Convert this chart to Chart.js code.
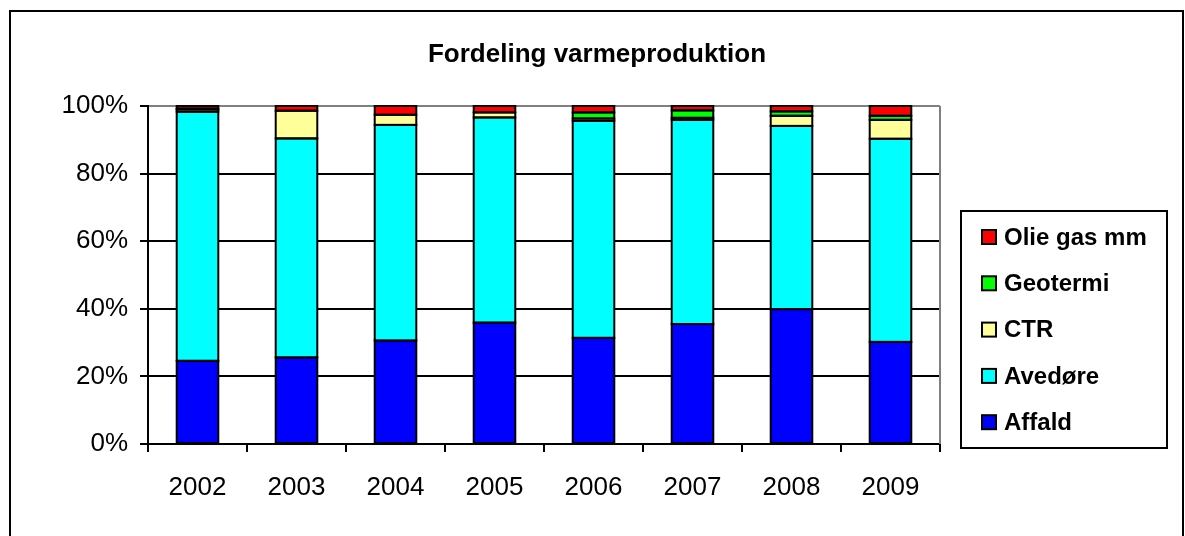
<!DOCTYPE html>
<html>
<head>
<meta charset="utf-8">
<script src="https://cdn.jsdelivr.net/npm/chart.js@4"></script>
<style>
  html, body { margin: 0; padding: 0; background: #fff; }
  #wrap { width: 1185px; height: 536px; }
</style>
</head>
<body>
<div id="wrap"><canvas id="myChart" width="1185" height="536"></canvas></div>
<script>
// Data (percent of total)
const years = ['2002', '2003', '2004', '2005', '2006', '2007', '2008', '2009'];
const affald   = [24.6, 25.6, 30.6, 35.9, 31.4, 35.5, 39.9, 30.2];
const avedore  = [73.7, 64.8, 63.8, 60.7, 64.2, 60.4, 54.2, 60.1];
const ctr      = [0.7, 8.2, 3.0, 1.5, 0.7, 0.6, 3.0, 5.6];
const geotermi = [0.2, 0, 0, 0, 1.8, 2.2, 1.3, 1.2];
const olie     = [0.8, 1.4, 2.6, 1.9, 1.9, 1.3, 1.6, 2.9];
const yTicks = [0, 20, 40, 60, 80, 100];
const titleText = 'Fordeling varmeproduktion';

const FONT = "'Liberation Sans', Arial, sans-serif";

// outer frame, title and grey plot border on the right
const framePlugin = {
  id: 'frame',
  beforeDraw(chart) {
    const ctx = chart.ctx;
    ctx.save();
    ctx.fillStyle = '#fff';
    ctx.fillRect(0, 0, chart.width, chart.height);
    ctx.strokeStyle = '#000';
    ctx.lineWidth = 2;
    ctx.strokeRect(10, 11, 1173, 560);
    ctx.fillStyle = '#000';
    ctx.font = 'bold 26px ' + FONT;
    ctx.textAlign = 'center';
    ctx.textBaseline = 'middle';
    ctx.fillText(titleText, 597, 55);
    ctx.restore();
  },
  beforeDatasetsDraw(chart) {
    const { ctx, chartArea } = chart;
    ctx.save();
    ctx.strokeStyle = '#808080';
    ctx.lineWidth = 2;
    ctx.beginPath();
    ctx.moveTo(chartArea.right, chartArea.top);
    ctx.lineTo(chartArea.right, chartArea.bottom);
    ctx.stroke();
    ctx.restore();
  },
  // Excel style outlines: a 2px stroke centred on each segment edge
  afterDatasetsDraw(chart) {
    const ctx = chart.ctx;
    ctx.save();
    ctx.strokeStyle = '#000';
    ctx.lineWidth = 2;
    chart.data.datasets.forEach((ds, i) => {
      chart.getDatasetMeta(i).data.forEach(bar => {
        const p = bar.getProps(['x', 'y', 'base', 'width'], true);
        if (Math.abs(p.base - p.y) < 0.01) return;
        ctx.strokeRect(p.x - p.width / 2, p.y, p.width, p.base - p.y);
      });
    });
    ctx.restore();
  }
};

// boxed legend on the right, top series first
const legendPlugin = {
  id: 'boxLegend',
  afterDraw(chart) {
    const ctx = chart.ctx;
    const box = { x: 961, y: 211, w: 206, h: 237 };
    ctx.save();
    ctx.strokeStyle = '#000';
    ctx.lineWidth = 2;
    ctx.strokeRect(box.x, box.y, box.w, box.h);
    ctx.font = 'bold 24px ' + FONT;
    ctx.textBaseline = 'middle';
    const sets = chart.data.datasets.slice().reverse();
    sets.forEach((ds, i) => {
      const cy = 237 + i * 46.3;
      ctx.fillStyle = ds.backgroundColor;
      ctx.fillRect(982, cy - 7, 14, 14);
      ctx.lineWidth = 2;
      ctx.strokeStyle = '#000';
      ctx.strokeRect(982, cy - 7, 14, 14);
      ctx.fillStyle = '#000';
      ctx.fillText(ds.label, 1004, cy + 1);
    });
    ctx.restore();
  }
};

const mk = (label, data, color) => ({
  label: label,
  data: data,
  backgroundColor: color,
  borderWidth: 0,
  barPercentage: 0.42,
  categoryPercentage: 1.0
});

new Chart(document.getElementById('myChart'), {
  type: 'bar',
  data: {
    labels: years,
    datasets: [
      mk('Affald', affald, '#0000FF'),
      mk('Avedøre', avedore, '#00FFFF'),
      mk('CTR', ctr, '#FFFF99'),
      mk('Geotermi', geotermi, '#00FF00'),
      mk('Olie gas mm', olie, '#FF0000')
    ]
  },
  options: {
    responsive: false,
    animation: false,
    layout: { padding: { left: 10, right: 245, top: 106, bottom: 0 } },
    plugins: {
      legend: { display: false },
      tooltip: { enabled: false },
      title: { display: false }
    },
    scales: {
      x: {
        stacked: true,
        grid: { display: true, drawOnChartArea: false, drawTicks: true, tickLength: 8, color: '#000', lineWidth: 2 },
        border: { color: '#000', width: 2 },
        ticks: { color: '#000', font: { family: FONT, size: 26 }, padding: 20 },
        afterFit: s => { s.height = 92; }
      },
      y: {
        stacked: true,
        min: 0,
        max: 100,
        afterBuildTicks: s => { s.ticks = yTicks.map(v => ({ value: v })); },
        grid: {
          color: c => (c.tick && c.tick.value === 100 ? '#808080' : '#000'),
          lineWidth: 2,
          tickLength: 8,
          tickColor: '#000'
        },
        border: { color: '#000', width: 2 },
        ticks: { color: '#000', font: { family: FONT, size: 26 }, padding: 12, callback: v => v + '%' },
        afterFit: s => { s.width = 138; }
      }
    }
  },
  plugins: [framePlugin, legendPlugin]
});
</script>
</body>
</html>
